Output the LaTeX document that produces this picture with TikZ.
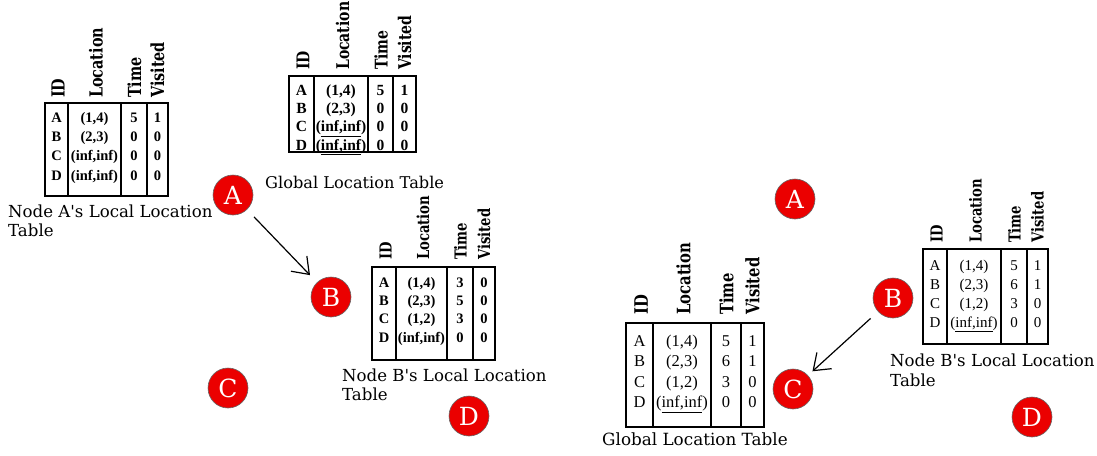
\documentclass[tikz,border=0pt]{standalone}
\usepackage{fontspec}
\usetikzlibrary{arrows.meta}
\newfontfamily\lblfont[Ligatures=TeXOff]{DejaVu Serif}
\newfontfamily\cellfont[Ligatures=TeXOff]{Liberation Serif}
\definecolor{nodered}{RGB}{235,0,0}
\tikzset{
  tbl/.style={draw=black, line width=1.4pt},
  hdr/.style={rotate=90, xscale=0.8, anchor=west, inner sep=0pt},
  cell/.style={inner sep=0pt, text height=0.75em, text depth=0.08em, anchor=center},
  caption/.style={anchor=base west, inner sep=0pt},
  sensor/.style={circle, fill=nodered, draw=black!60, line width=0.6pt,
    minimum size=40pt, inner sep=0pt, text=white,
    font=\lblfont\fontsize{25}{25}\selectfont},
  link/.style={-{Straight Barb[length=15pt,width=22pt]}, line width=1.2pt},
}
% #1 name, #2 geometry L/ca/cb/cc/R/T/B/ry/dy/hb, #3 header size, #4 cell font, #5 rows
\newcommand\loctable[5]{%
  \foreach \L/\ca/\cb/\cc/\R/\T/\B/\ry/\dy/\hb in {#2}{
    \draw[tbl] (\L,\T) rectangle (\R,\B);
    \draw[tbl] (\ca,\T) -- (\ca,\B) (\cb,\T) -- (\cb,\B) (\cc,\T) -- (\cc,\B);
    \begin{scope}[every node/.append style={font=\lblfont\bfseries\fontsize{#3}{#3}\selectfont}]
      \node[hdr] (#1-h1) at ({(\L+\ca)/2+1.5},\hb) {ID};
      \node[hdr] (#1-h2) at ({(\ca+\cb)/2+1.5},\hb) {Location};
      \node[hdr] (#1-h3) at ({(\cb+\cc)/2+0.5},\hb) {Time};
      \node[hdr] (#1-h4) at ({(\cc+\R)/2},\hb) {Visited};
    \end{scope}
    \begin{scope}[every node/.append style={font=#4}]
      \foreach \id/\loc/\tm/\vi [count=\i] in {#5}{
        \node[cell] (#1-\i-1) at ({(\L+\ca)/2},{\ry+(\i-1)*\dy}) {\id};
        \node[cell] (#1-\i-2) at ({(\ca+\cb)/2},{\ry+(\i-1)*\dy}) {\loc};
        \node[cell] (#1-\i-3) at ({(\cb+\cc)/2},{\ry+(\i-1)*\dy}) {\tm};
        \node[cell] (#1-\i-4) at ({(\cc+\R)/2},{\ry+(\i-1)*\dy}) {\vi};
      }
    \end{scope}
  }%
}
\begin{document}
\begin{tikzpicture}[x=1pt, y=-1pt]
\useasboundingbox (0,0) rectangle (1097,455);

% ---- left half ----
\loctable{ta}{45/68/121/147/168/103/196/119/19.3/98}{18}{\cellfont\bfseries\fontsize{14.5}{14.5}\selectfont}
  {A/{(1,4)}/5/1, B/{(2,3)}/0/0, C/{(inf,inf)}/0/0, D/{(inf,inf)}/0/0}
\draw[tbl, line width=2.4pt] (121,103) -- (121,196);
\node[caption, font=\lblfont\fontsize{16.6}{19}\selectfont] (capa1) at (8,217) {Node A's Local Location};
\node[caption, font=\lblfont\fontsize{16.6}{19}\selectfont] (capa2) at (8,236) {Table};

\loctable{tb}{289/314/368/393/416/76/152/92/18.3/70}{17.5}{\cellfont\bfseries\fontsize{15.5}{15.5}\selectfont}
  {A/{(1,4)}/5/1, B/{(2,3)}/0/0, C/{(\underline{inf,inf})}/0/0, D/{(\underline{inf,inf})}/0/0}
\node[caption, font=\lblfont\fontsize{16.2}{19}\selectfont] (capb) at (265,188) {Global Location Table};

\loctable{tc}{372/396/447/473/495/267/360/284/18.3/260}{16.5}{\cellfont\bfseries\fontsize{14.5}{14.5}\selectfont}
  {A/{(1,4)}/3/0, B/{(2,3)}/5/0, C/{(1,2)}/3/0, D/{(inf,inf)}/0/0}
\node[caption, font=\lblfont\fontsize{16.6}{19}\selectfont] (capc1) at (342,381) {Node B's Local Location};
\node[caption, font=\lblfont\fontsize{16.6}{19}\selectfont] (capc2) at (342,400) {Table};

\node[sensor] (A1) at (233,195) {A};
\node[sensor] (B1) at (331,297) {B};
\node[sensor] (C1) at (228,388) {C};
\node[sensor] (D1) at (469,416) {D};
\draw[link, shorten <=10pt, shorten >=10pt] (A1) -- (B1);

% ---- right half ----
\loctable{td}{626/653/711/741/764/323/427/343/20.5/315}{18.5}{\cellfont\fontsize{16.5}{16.5}\selectfont}
  {A/{(1,4)}/5/1, B/{(2,3)}/6/1, C/{(1,2)}/3/0, D/{(\underline{inf,inf})}/0/0}
\node[caption, font=\lblfont\fontsize{16.8}{19}\selectfont] (capd) at (602,445) {Global Location Table};

\loctable{te}{923/947/1001/1027/1048/249/344/267/19/243}{16.5}{\cellfont\fontsize{15}{15}\selectfont}
  {A/{(1,4)}/5/1, B/{(2,3)}/6/1, C/{(1,2)}/3/0, D/{(\underline{inf,inf})}/0/0}
\node[caption, font=\lblfont\fontsize{16.6}{19}\selectfont] (cape1) at (890,366) {Node B's Local Location};
\node[caption, font=\lblfont\fontsize{16.6}{19}\selectfont] (cape2) at (890,386) {Table};

\node[sensor] (A2) at (795,199) {A};
\node[sensor] (B2) at (893,298) {B};
\node[sensor] (C2) at (793,389) {C};
\node[sensor] (D2) at (1032,417) {D};
\draw[link, shorten <=10pt, shorten >=6pt] (B2) -- (C2);
\end{tikzpicture}
\end{document}
